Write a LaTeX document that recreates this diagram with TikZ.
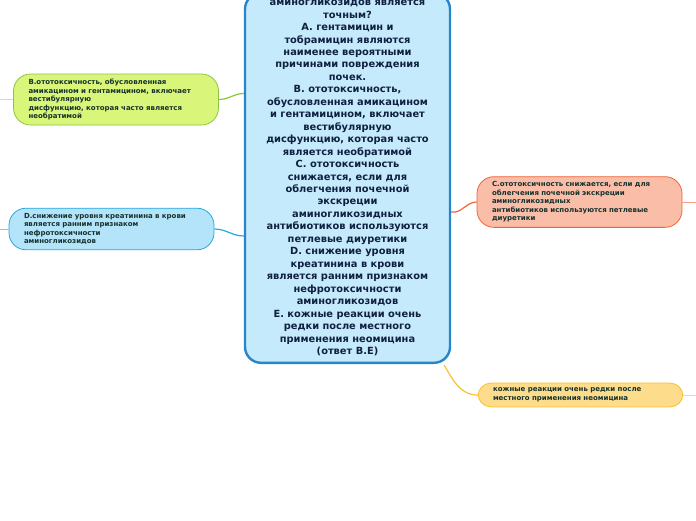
\documentclass[tikz,border=0pt]{standalone}
\usepackage{fontspec}
\setmainfont{DejaVu Sans}
\usepackage{tikz}
\usetikzlibrary{positioning}
\definecolor{mmcore}{RGB}{197,234,251}
\definecolor{mmcoreline}{RGB}{40,133,200}
\definecolor{mmink}{RGB}{16,32,64}
\definecolor{mmsink}{RGB}{22,50,45}
\definecolor{mmgreen}{RGB}{140,198,63}
\definecolor{mmgreenfill}{RGB}{217,246,122}
\definecolor{mmblue}{RGB}{41,168,224}
\definecolor{mmbluefill}{RGB}{180,228,250}
\definecolor{mmorange}{RGB}{240,100,60}
\definecolor{mmorangefill}{RGB}{249,189,168}
\definecolor{mmyellow}{RGB}{249,193,46}
\definecolor{mmyellowfill}{RGB}{253,220,140}

\begin{document}
\begin{tikzpicture}[x=1pt,y=-1pt,
    core/.style={draw=mmcoreline,line width=2.4pt,fill=mmcore,rounded corners=16pt,
      text=mmink,font=\fontsize{9.85}{12.46}\selectfont\bfseries,align=center,
      minimum width=205pt,inner ysep=7pt},
    bubble/.style={rounded corners=17pt,line width=0.8pt,text=mmsink,
      font=\fontsize{7}{8.5}\selectfont\bfseries,align=left,
      text width=175pt,inner xsep=15pt,inner ysep=5pt},
    link/.style={line width=1.2pt},
    stub/.style={line width=0.6pt}]
  \useasboundingbox (0,0) rectangle (696,520);
  \clip (0,0) rectangle (696,520);

  % central question
  \node[core,anchor=south] (q) at (347.5,364) {аминогликозидов является\\точным?\\
    A. гентамицин и\\тобрамицин являются\\наименее вероятными\\причинами повреждения\\почек.\\
    B. ототоксичность,\\обусловленная амикацином\\и гентамицином, включает\\вестибулярную\\
    дисфункцию, которая часто\\является необратимой\\
    C. ототоксичность\\снижается, если для\\облегчения почечной\\экскреции\\аминогликозидных\\
    антибиотиков используются\\петлевые диуретики\\
    D. снижение уровня\\креатинина в крови\\является ранним признаком\\нефротоксичности\\аминогликозидов\\
    E. кожные реакции очень\\редки после местного\\применения неомицина\\(ответ B.E)};

  % answers
  \node[bubble,draw=mmgreen,fill=mmgreenfill] (b) at (116,99.5)
    {B.ототоксичность, обусловленная\\амикацином и гентамицином, включает\\вестибулярную\\
     дисфункцию, которая часто является\\необратимой};
  \node[bubble,draw=mmblue,fill=mmbluefill] (d) at (111.5,229)
    {D.снижение уровня креатинина в крови\\является ранним признаком\\нефротоксичности\\аминогликозидов};
  \node[bubble,draw=mmorange,fill=mmorangefill] (c) at (579.5,202)
    {C.ототоксичность снижается, если для\\облегчения почечной экскреции\\аминогликозидных\\
     антибиотиков используются петлевые\\диуретики};
  \node[bubble,rounded corners=13pt,draw=mmyellow,fill=mmyellowfill] (e) at (580.5,395)
    {кожные реакции очень редки после\\местного применения неомицина};

  \draw[link,mmgreen] (b.east) to[out=0,in=180] ([yshift=6pt]q.west |- b.east);
  \draw[link,mmblue] (d.east) to[out=0,in=180] ([yshift=-7pt]q.west |- d.east);
  \draw[link,mmorange] ([yshift=-10pt]q.east |- c.west) to[out=-10,in=180] (c.west);
  \draw[link,mmyellow] ([xshift=-7pt,yshift=-1pt]q.south east) to[out=-60,in=180] (e.west);

  % collapsed branches
  \coordinate (bx) at (0,99.5);
  \coordinate (dx) at (0,229);
  \coordinate (cx) at (696,202);
  \coordinate (ex) at (696,395);
  \draw[stub,mmgreen!45] (b.west) -- (bx);
  \draw[stub,mmblue!60] (d.west) -- (dx);
  \draw[stub,mmorange!60] (c.east) -- (cx);
  \draw[stub,mmyellow!60] (e.east) -- (ex);
\end{tikzpicture}
\end{document}
